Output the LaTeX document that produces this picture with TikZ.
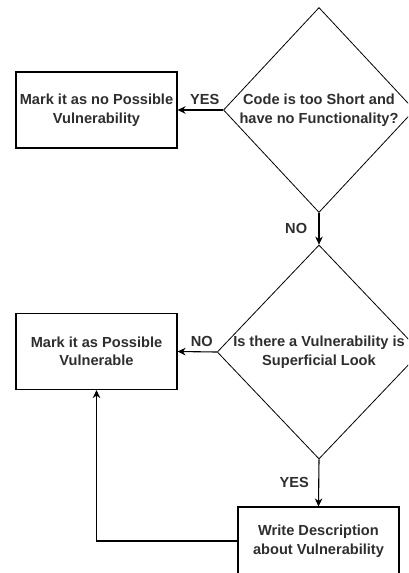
\documentclass[tikz,border=0pt]{standalone}
\usepackage{fontspec}
\setmainfont{Liberation Sans}
\usetikzlibrary{arrows.meta,positioning,shapes.geometric}

\begin{document}
\begin{tikzpicture}[x=1pt,y=-1pt,>={Stealth[length=8pt,width=7.5pt,inset=2.5pt]},
    font=\bfseries\fontsize{14.6}{18.5}\selectfont,text=black!82]
    \tikzset{
        action/.style={draw,line width=1.1pt,minimum width=161,minimum height=76,align=center,inner sep=2pt},
        decision/.style={draw,diamond,line width=0.8pt,align=center,inner sep=0pt},
        flow/.style={->,line width=1.1pt}
    }
    \useasboundingbox (0,0) rectangle (408,573);
    \clip (0,0) rectangle (408,573);
    % first check
    \node[decision,minimum width=188,minimum height=205] (short) at (319,110) {Code is too Short and\\have no Functionality?};
    \node[action] (nopossible) at (96.5,110) {Mark it as no Possible\\Vulnerability};
    % second check
    \node[decision,minimum width=200,minimum height=214] (superficial) at (319,352) {Is there a Vulnerability is\\Superficial Look};
    \node[action] (possible) at (96.5,351.5) {Mark it as Possible\\Vulnerable};
    \node[action,minimum height=68] (describe) at (318.5,541) {Write Description\\about Vulnerability};
    % connectors
    \draw[flow] (short.west) -- node[above=1pt,pos=0.4] {YES} (nopossible.east);
    \draw[flow] (short.south) -- node[left=8pt] {NO} (superficial.north);
    \draw[flow] (superficial.west) -- node[above=1pt,pos=0.38] {NO} (possible.east);
    \draw[flow] (superficial.south) -- node[left=6pt] {YES} (describe.north);
    \draw[flow] (describe.west) -| (possible.south);
\end{tikzpicture}
\end{document}
